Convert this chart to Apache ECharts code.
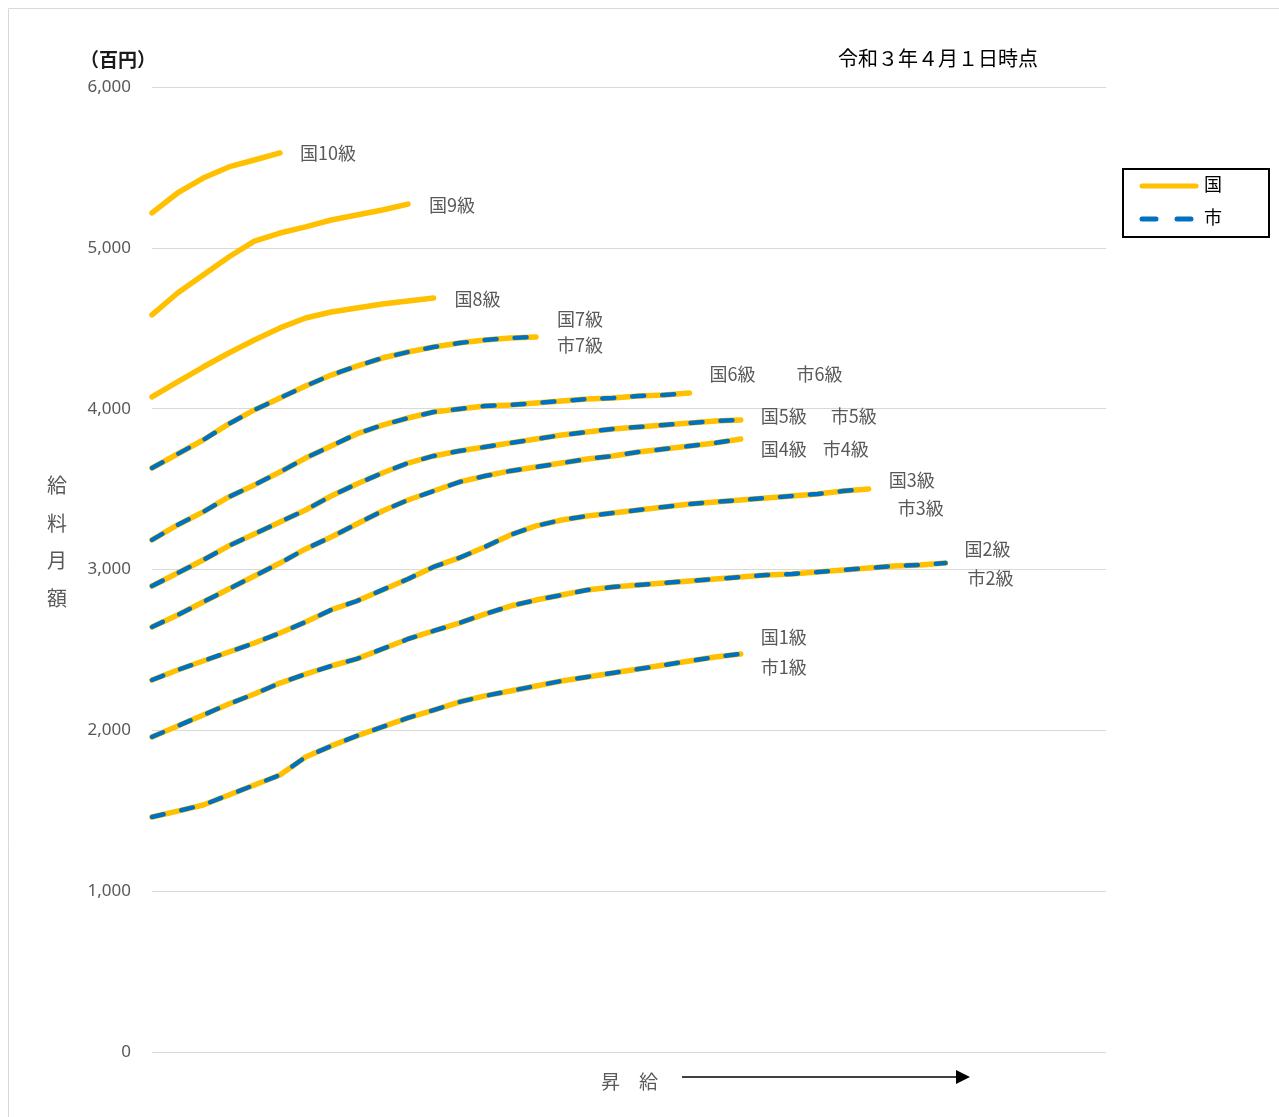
<!DOCTYPE html>
<html>
<head>
<meta charset="utf-8">
<script src="https://cdn.jsdelivr.net/npm/echarts@6/dist/echarts.min.js"></script>
<style>
html,body{margin:0;padding:0;background:#fff;}
#main{width:1279px;height:1117px;}
</style>
</head>
<body>
<div id="main"></div>
<script>
// 国 (national) salary curves, 百円, by step index
var kuni1  = [1461,1498,1536,1598,1660,1722,1834,1903,1965,2021,2077,2126,2176,2214,2245,2276,2307,2332,2357,2381,2406,2431,2456,2475];
var kuni2  = [1959,2027,2095,2164,2226,2294,2350,2400,2444,2506,2568,2618,2667,2723,2773,2810,2841,2873,2891,2904,2916,2929,2941,2953,2966,2972,2984,2997,3009,3022,3028,3040];
var kuni3  = [2313,2375,2431,2487,2543,2605,2674,2749,2804,2873,2941,3016,3072,3140,3215,3271,3308,3333,3351,3370,3389,3407,3420,3432,3445,3457,3470,3488,3501];
var kuni4  = [2643,2717,2798,2879,2960,3040,3128,3202,3283,3364,3432,3488,3544,3581,3613,3637,3662,3687,3706,3731,3749,3768,3787,3811];
var kuni5  = [2897,2978,3059,3147,3221,3296,3370,3457,3532,3600,3662,3706,3737,3762,3787,3811,3836,3855,3874,3886,3899,3911,3923,3930];
var kuni6  = [3184,3277,3358,3451,3526,3606,3693,3768,3843,3898,3942,3979,3998,4017,4023,4035,4048,4060,4066,4079,4085,4097];
var kuni7  = [3631,3718,3805,3905,3992,4066,4141,4209,4265,4315,4352,4383,4408,4427,4439,4446];
var kuni8  = [4073,4166,4259,4346,4427,4502,4564,4601,4626,4651,4670,4688];
var kuni9  = [4583,4719,4831,4943,5042,5092,5130,5173,5204,5235,5272];
var kuni10 = [5217,5341,5434,5503,5546,5590];
// 市 (city) curves coincide with 国 for grades 1-7
var shi1 = kuni1.slice(), shi2 = kuni2.slice(), shi3 = kuni3.slice(), shi4 = kuni4.slice(),
    shi5 = kuni5.slice(), shi6 = kuni6.slice(), shi7 = kuni7.slice();

var yTicks = [0,1000,2000,3000,4000,5000,6000];
var legendNames = ['国','市'];

var GOLD = '#FFC000', BLUE = '#0070C0', LABEL = '#595959';
var FONT = '"Noto Sans CJK JP", "Noto Sans", sans-serif';
var DASH = [12,18];

function toData(arr){ return arr.map(function(v,i){ return [i, v]; }); }

var kuniList = [
  {d:kuni1, t:'国1級', o:[20,-17]},
  {d:kuni2, t:'国2級', o:[19,-14]},
  {d:kuni3, t:'国3級', o:[20,-9]},
  {d:kuni4, t:'国4級', o:[20,10]},
  {d:kuni5, t:'国5級', o:[20,-4]},
  {d:kuni6, t:'国6級', o:[20,-19]},
  {d:kuni7, t:'国7級', o:[21,-18]},
  {d:kuni8, t:'国8級', o:[21,1]},
  {d:kuni9, t:'国9級', o:[21,1]},
  {d:kuni10,t:'国10級',o:[20,0]}
];
var shiList = [
  {d:shi1, t:'市1級', o:[20,13]},
  {d:shi2, t:'市2級', o:[22,15]},
  {d:shi3, t:'市3級', o:[29,19]},
  {d:shi4, t:'市4級', o:[82,10]},
  {d:shi5, t:'市5級', o:[90,-4]},
  {d:shi6, t:'市6級', o:[107,-19]},
  {d:shi7, t:'市7級', o:[21,8]}
];

function lbl(t,o){
  return {show:true, formatter:t, offset:o, distance:0, align:'left', verticalAlign:'middle',
          fontSize:18, color:LABEL, fontFamily:FONT};
}

var series = [];
kuniList.forEach(function(s){
  series.push({name:legendNames[0], type:'line', data:toData(s.d), symbol:'none', smooth:false,
    lineStyle:{color:GOLD, width:5.5, cap:'round', join:'round'}, itemStyle:{color:GOLD},
    endLabel:lbl(s.t,s.o), emphasis:{disabled:true}, silent:true});
});
shiList.forEach(function(s){
  series.push({name:legendNames[1], type:'line', data:toData(s.d), symbol:'none', smooth:false,
    lineStyle:{color:BLUE, width:4.5, type:DASH, cap:'round', join:'round'}, itemStyle:{color:BLUE},
    endLabel:lbl(s.t,s.o), emphasis:{disabled:true}, silent:true});
});

var chart = echarts.init(document.getElementById('main'), null, {renderer:'canvas'});
chart.setOption({
  animation:false,
  backgroundColor:'#fff',
  grid:{left:152, right:173, top:87, bottom:65, containLabel:false},
  xAxis:{type:'value', min:0, max:37.27, show:false},
  yAxis:{type:'value', min:yTicks[0], max:yTicks[yTicks.length-1], interval:1000,
    axisLine:{show:false}, axisTick:{show:false},
    splitLine:{lineStyle:{color:'#D9D9D9', width:1}},
    axisLabel:{color:LABEL, fontSize:17, fontFamily:'"Noto Sans", sans-serif', margin:21,
      formatter:function(v){ return v.toLocaleString('en-US'); }}},
  series:series,
  graphic:[
    {type:'rect', shape:{x:8.5, y:8.5, width:1280, height:1120}, style:{fill:'none', stroke:'#D9D9D9', lineWidth:1}, silent:true},
    {type:'text', left:80, top:50, style:{text:'（百円）', fontSize:19, fill:'#1a1a1a', fontWeight:'bold', fontFamily:FONT}},
    {type:'text', left:838, top:48, style:{text:'令和３年４月１日時点', fontSize:20, fill:'#000', fontFamily:FONT}},
    {type:'text', left:47, top:467, style:{text:'給\n料\n月\n額', fontSize:20, lineHeight:37.5, fill:LABEL, fontFamily:FONT}},
    {type:'text', left:601, top:1072, style:{text:'昇　給', fontSize:19, fill:LABEL, fontFamily:FONT}},
    {type:'line', shape:{x1:682, y1:1077, x2:958, y2:1077}, style:{stroke:'#000', lineWidth:1.5}},
    {type:'polygon', shape:{points:[[956,1070],[970,1077],[956,1084]]}, style:{fill:'#000'}},
    // legend
    {type:'rect', shape:{x:1123, y:169, width:146, height:68}, style:{fill:'#fff', stroke:'#000', lineWidth:2}},
    {type:'line', shape:{x1:1142, y1:186, x2:1196, y2:186}, style:{stroke:GOLD, lineWidth:5, lineCap:'round'}},
    {type:'line', shape:{x1:1142, y1:219, x2:1194, y2:219}, style:{stroke:BLUE, lineWidth:5, lineCap:'round', lineDash:[14,21]}},
    {type:'text', left:1204, top:175, style:{text:legendNames[0], fontSize:18, fill:'#000', fontFamily:FONT}},
    {type:'text', left:1204, top:208, style:{text:legendNames[1], fontSize:18, fill:'#000', fontFamily:FONT}}
  ]
});
</script>
</body>
</html>
